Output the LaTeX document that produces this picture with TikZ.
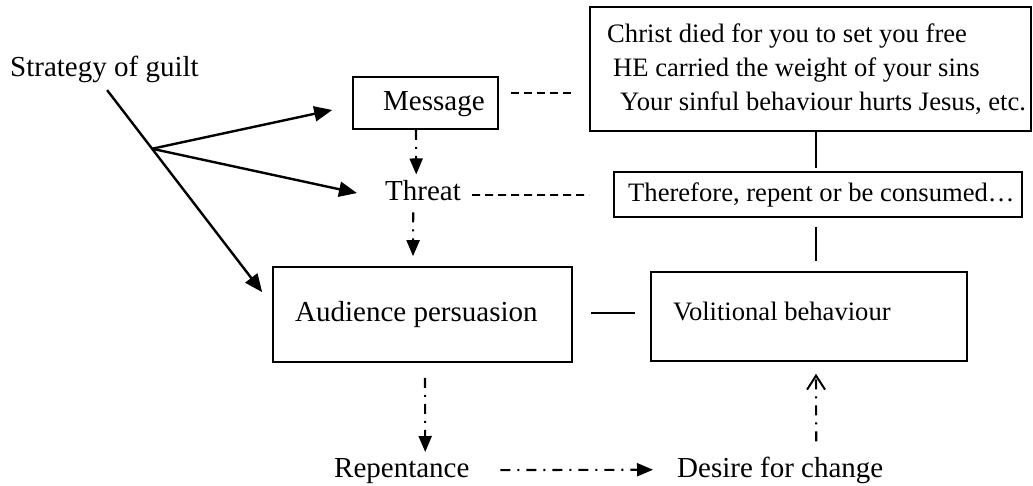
\documentclass[tikz,border=0pt]{standalone}
\usepackage{fontspec}
\setmainfont{Liberation Serif}
\usetikzlibrary{arrows.meta,calc}

\begin{document}
\begin{tikzpicture}[x=1pt,y=-1pt,
  box/.style={draw,line width=1.6pt,inner sep=0pt},
  bigtxt/.style={inner sep=0pt,anchor=base west,font=\fontsize{29pt}{33pt}\selectfont},
  smalltxt/.style={inner sep=0pt,anchor=base west,font=\fontsize{26.6pt}{30pt}\selectfont},
  solidarrow/.style={line width=2.4pt,-{Triangle[length=18pt,width=15pt]}},
  dotdash/.style={line width=2.1pt,dash pattern=on 10pt off 7pt on 2pt off 7pt,
    -{Triangle[length=16pt,width=13pt]}},
  openup/.style={line width=2.1pt,dash pattern=on 10pt off 7pt on 2pt off 7pt,
    -{Straight Barb[length=14pt,width=18pt,line width=2pt]}},
  link/.style={line width=1.6pt},
  dashlink/.style={line width=1.8pt,dash pattern=on 8pt off 5pt}]

\useasboundingbox (0,0) rectangle (1033,486);

% boxes
\node[box,minimum width=145pt,minimum height=52pt] (msg) at (425.5,103) {};
\node[box,minimum width=441pt,minimum height=124pt] (big) at (810.5,69) {};
\node[box,minimum width=408pt,minimum height=45pt] (there) at (818,194.5) {};
\node[box,minimum width=299pt,minimum height=95pt] (aud) at (422.5,314.5) {};
\node[box,minimum width=316pt,minimum height=89pt] (vol) at (809,316.5) {};

% texts
\node[bigtxt] (strat) at (10,77) {Strategy of guilt};
\node[bigtxt] (msgt) at (383,111) {Message};
\node[bigtxt] (threat) at (385,201) {Threat};
\node[bigtxt] (audt) at (295,321) {Audience persuasion};
\node[bigtxt] (rep) at (334,477) {Repentance};
\node[bigtxt] (des) at (677,477) {Desire for change};
\node[smalltxt] (l1) at (607,43) {Christ died for you to set you free};
\node[smalltxt] (l2) at (613,77) {HE carried the weight of your sins};
\node[smalltxt] (l3) at (620,111) {Your sinful behaviour hurts Jesus, etc.};
\node[smalltxt] (tht) at (628,202) {Therefore, repent or be consumed…};
\node[smalltxt] (volt) at (673,320) {Volitional behaviour};

% strategy branches
\coordinate (s0) at ([xshift=2.7pt,yshift=-6.7pt]strat.south);
\coordinate (audtip) at ([xshift=-10pt,yshift=-26pt]aud.north west);
\coordinate (fork) at ($(s0)!0.29!(audtip)$);
\draw[solidarrow] (s0) -- (audtip);
\draw[solidarrow] (fork) -- ([xshift=-20pt,yshift=-7pt]msg.west);
\draw[solidarrow] (fork) -- ([xshift=-28pt,yshift=-2pt]threat.west);

% main chain
\draw[dotdash] ([xshift=-9.5pt]msg.south) -- ([xshift=-6.8pt,yshift=6.2pt]threat.north);
\draw[dotdash] ([xshift=-9.8pt,yshift=-11pt]threat.south) -- ([xshift=-9.5pt,yshift=10pt]aud.north);
\draw[dotdash] ([xshift=2.5pt,yshift=-15pt]aud.south) -- ([xshift=23.4pt,yshift=5.8pt]rep.north);
\draw[dotdash] ([xshift=30.7pt,yshift=0.5pt]rep.east) -- ([xshift=-24pt,yshift=0.2pt]des.west);
\draw[openup] ([xshift=36pt,yshift=15pt]des.north) -- ([xshift=7pt,yshift=-12pt]vol.south);

% links to the right-hand column
\draw[dashlink] ([xshift=12pt,yshift=10pt]msg.east) -- ([xshift=-17pt,yshift=-24pt]big.west);
\draw[dashlink] ([xshift=11pt,yshift=-4pt]threat.east) -- ([xshift=-24pt,yshift=-0.5pt]there.west);
\draw[link] ([xshift=5.5pt]big.south) -- ([xshift=-2pt,yshift=3pt]there.north);
\draw[link] ([xshift=-2pt,yshift=-9pt]there.south) -- ([xshift=7pt,yshift=10pt]vol.north);
\draw[link] ([xshift=18pt,yshift=1.5pt]aud.east) -- ([xshift=-15pt,yshift=3.5pt]vol.west);

\end{tikzpicture}
\end{document}
